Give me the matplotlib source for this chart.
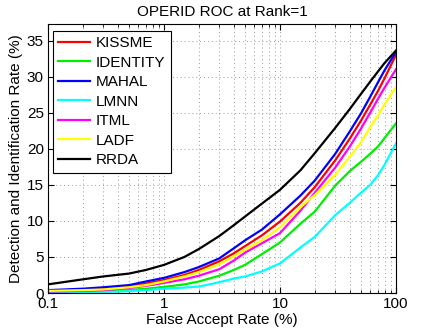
import matplotlib
matplotlib.use("Agg")
import matplotlib.pyplot as plt
from matplotlib.ticker import NullFormatter, LogLocator

plt.rcParams['font.family'] = ['Liberation Sans', 'DejaVu Sans']

far = [0.1, 0.2, 0.3, 0.5, 0.7, 1, 1.5, 2, 3, 4, 5, 7, 10, 15, 20, 30, 40, 50, 60, 70, 80, 100]

kissme   = [0.3, 0.5, 0.6, 0.9, 1.3, 1.8, 2.5, 3.2, 4.4, 5.5, 6.5, 8.0, 9.9, 12.5, 14.7, 18.4, 21.4, 23.9, 26.1, 28.0, 29.8, 33.0]
identity = [0.1, 0.2, 0.25, 0.4, 0.6, 0.85, 1.2, 1.6, 2.4, 3.2, 3.9, 5.4, 7.0, 9.6, 11.3, 14.9, 16.9, 18.2, 19.3, 20.3, 21.5, 23.5]
mahal    = [0.4, 0.6, 0.8, 1.1, 1.6, 2.1, 2.9, 3.6, 4.8, 6.2, 7.3, 8.8, 10.9, 13.5, 15.6, 19.3, 22.4, 24.9, 27.2, 29.2, 30.9, 33.4]
lmnn     = [0.05, 0.1, 0.15, 0.25, 0.4, 0.6, 0.75, 0.9, 1.5, 2.0, 2.3, 3.0, 4.1, 6.3, 7.8, 10.8, 12.5, 13.9, 15.0, 16.3, 17.8, 20.7]
itml     = [0.2, 0.3, 0.4, 0.7, 1.0, 1.4, 1.9, 2.4, 3.3, 4.5, 5.6, 6.9, 8.3, 11.4, 13.9, 17.4, 20.3, 22.8, 25.0, 26.9, 28.5, 31.0]
ladf     = [0.3, 0.4, 0.5, 0.8, 1.1, 1.6, 2.3, 2.9, 4.0, 5.1, 6.0, 7.3, 9.1, 11.9, 13.6, 16.4, 18.9, 20.9, 23.0, 24.6, 26.2, 28.5]
rrda     = [1.2, 1.9, 2.3, 2.7, 3.2, 3.9, 5.0, 6.1, 7.9, 9.4, 10.6, 12.4, 14.3, 17.0, 19.4, 22.9, 25.5, 27.6, 29.3, 30.7, 31.9, 33.6]

names = ['KISSME', 'IDENTITY', 'MAHAL', 'LMNN', 'ITML', 'LADF', 'RRDA']
series = [kissme, identity, mahal, lmnn, itml, ladf, rrda]
colors = ['#ff0000', '#00ee00', '#0000ff', '#00ffff', '#ff00ff', '#ffff00', '#000000']

fig = plt.figure(figsize=(4.36, 3.33), dpi=100)
ax = fig.add_axes([0.110, 0.120, 0.798, 0.808])

for name, s, c in zip(names, series, colors):
    ax.plot(far, s, color=c, lw=1.6, label=name)

ax.set_xscale('log')
ax.set_xlim(0.1, 100)
ax.set_ylim(0, 37.3)
ax.set_xticks([0.1, 1, 10, 100])
ax.set_xticklabels(['0.1', '1', '10', '100'])
ax.xaxis.set_minor_locator(LogLocator(base=10, subs=range(2, 10)))
ax.xaxis.set_minor_formatter(NullFormatter())
ax.set_yticks([0, 5, 10, 15, 20, 25, 30, 35])

ax.grid(True, which='major', linestyle=(0, (1, 3)), color='#999999', lw=0.7)
ax.grid(True, which='minor', axis='x', linestyle=(0, (1, 3)), color='#999999', lw=0.7)
ax.tick_params(direction='in', which='both', top=True, right=True, labelsize=11, length=4, pad=3)
ax.tick_params(which='minor', length=2)
for sp in ax.spines.values():
    sp.set_linewidth(0.8)

ax.set_xlabel('False Accept Rate (%)', fontsize=11, labelpad=1)
ax.set_ylabel('Detection and Identification Rate (%)', fontsize=11, labelpad=3)
ax.set_title('OPERID ROC at Rank=1', fontsize=11, pad=6)

leg = ax.legend(loc='upper left', bbox_to_anchor=(0.0144, 0.974), fontsize=11, frameon=True,
                fancybox=False, edgecolor='black', framealpha=1, handlelength=2.1,
                handletextpad=0.35, labelspacing=0.36, borderpad=0.35, borderaxespad=0)
leg.get_frame().set_linewidth(0.8)

fig.savefig('out.png', dpi=100)
